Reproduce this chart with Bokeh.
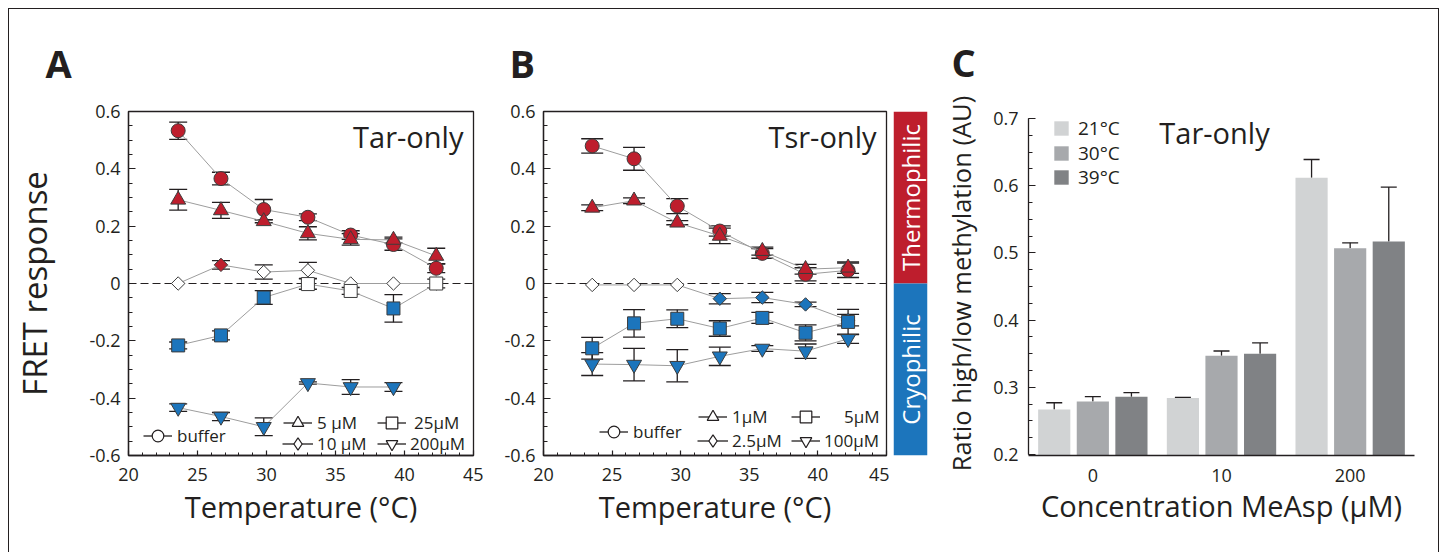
import numpy as np
from bokeh.plotting import figure
from bokeh.layouts import row
from bokeh.models import (ColumnDataSource, Range1d, FactorRange, FixedTicker, PrintfTickFormatter,
                          Whisker, TeeHead, Span, Legend, LegendItem, Label)
from bokeh.transform import dodge
from bokeh.core.properties import value
from bokeh.embed import file_html
from bokeh.resources import INLINE

# ---------------- data ----------------
# Panel A: Tar-only FRET response vs temperature (sig: 1 thermophilic, -1 cryophilic, 0 n.s.)
temps_A = [23.6, 26.7, 29.8, 33.0, 36.1, 39.2, 42.3]
A_buffer = [0.533, 0.366, 0.258, 0.231, 0.169, 0.136, 0.053]
A_buffer_err = [0.030, 0.022, 0.035, 0.012, 0.015, 0.020, 0.015]
A_buffer_sig = [1, 1, 1, 1, 1, 1, 1]
A_5 = [0.292, 0.255, 0.217, 0.175, 0.154, 0.152, 0.096]
A_5_err = [0.036, 0.028, 0.005, 0.023, 0.020, 0.010, 0.027]
A_5_sig = [1, 1, 1, 1, 1, 1, 1]
A_10 = [0.0, 0.065, 0.040, 0.046, 0.0, 0.0, 0.0]
A_10_err = [0.0, 0.015, 0.025, 0.028, 0.0, 0.0, 0.0]
A_10_sig = [0, 1, 0, 0, 0, 0, 0]
A_25 = [-0.216, -0.181, -0.049, -0.002, -0.026, -0.087, 0.0]
A_25_err = [0.012, 0.016, 0.024, 0.018, 0.012, 0.048, 0.015]
A_25_sig = [-1, -1, -1, 0, 0, -1, 0]
A_200 = [-0.433, -0.464, -0.500, -0.347, -0.361, -0.361]
A_200_err = [0.013, 0.014, 0.031, 0.004, 0.026, 0.015]
A_200_sig = [-1, -1, -1, -1, -1, -1]

# Panel B: Tsr-only
temps_B = [23.55, 26.6, 29.75, 32.85, 35.95, 39.1, 42.2]
B_buffer = [0.480, 0.435, 0.270, 0.183, 0.105, 0.032, 0.046]
B_buffer_err = [0.025, 0.040, 0.026, 0.018, 0.017, 0.023, 0.025]
B_buffer_sig = [1, 1, 1, 1, 1, 1, 1]
B_1 = [0.264, 0.289, 0.212, 0.166, 0.113, 0.050, 0.055]
B_1_err = [0.010, 0.010, 0.007, 0.027, 0.014, 0.017, 0.020]
B_1_sig = [1, 1, 1, 1, 1, 1, 1]
B_2p5 = [-0.005, -0.005, -0.005, -0.053, -0.049, -0.073, -0.128]
B_2p5_err = [0.0, 0.0, 0.0, 0.018, 0.018, 0.008, 0.020]
B_2p5_sig = [0, 0, 0, -1, -1, -1, -1]
B_5 = [-0.226, -0.139, -0.123, -0.157, -0.120, -0.172, -0.134]
B_5_err = [0.038, 0.048, 0.031, 0.027, 0.019, 0.028, 0.044]
B_5_sig = [-1, -1, -1, -1, -1, -1, -1]
B_100 = [-0.281, -0.283, -0.287, -0.254, -0.227, -0.236, -0.193]
B_100_err = [0.040, 0.057, 0.056, 0.032, 0.010, 0.025, 0.016]
B_100_sig = [-1, -1, -1, -1, -1, -1, -1]

# colour-bar classes
cb_labels = ["Thermophilic", "Cryophilic"]
cb_bottom = [0.0, -0.6]
cb_top = [0.6, 0.0]

# Panel C: methylation ratio (Tar-only)
concs = ["0", "10", "200"]
temps_C = ["21°C", "30°C", "39°C"]
ratio_21 = [0.267, 0.284, 0.612]
ratio_21_err = [0.010, 0.001, 0.027]
ratio_30 = [0.279, 0.347, 0.507]
ratio_30_err = [0.007, 0.007, 0.008]
ratio_39 = [0.286, 0.350, 0.517]
ratio_39_err = [0.006, 0.016, 0.081]

# ---------------- style ----------------
FONT = "Open Sans"
INK = "#231f20"
RED = "#be1e2d"
BLUE = "#1c75bc"
SIGCOL = {1: RED, -1: BLUE, 0: "white"}
GRAYS = ["#d1d3d4", "#a7a9ac", "#808285"]
H = 543
TOP, BOTTOM = 102, 97
NAN = float("nan")


def base_fig(width, left, right, xr, yr, **kw):
    p = figure(width=width, height=H, x_range=xr, y_range=yr, output_backend="svg",
               toolbar_location=None, min_border_left=left, min_border_right=right,
               min_border_top=TOP, min_border_bottom=BOTTOM, background_fill_color="white",
               border_fill_color="white", **kw)
    p.grid.visible = False
    return p


def style_axis(ax, tick_in=6, minor_in=3):
    ax.axis_line_color = INK
    ax.axis_line_width = 1.3
    ax.major_tick_line_color = INK
    ax.minor_tick_line_color = INK
    ax.major_tick_line_width = 1.2
    ax.minor_tick_line_width = 1.0
    ax.major_tick_in = tick_in
    ax.major_tick_out = 0
    ax.minor_tick_in = minor_in
    ax.minor_tick_out = 0
    ax.major_label_text_font = FONT
    ax.major_label_text_font_size = "18px"
    ax.major_label_text_color = INK
    ax.axis_label_text_font = FONT
    ax.axis_label_text_font_style = "normal"
    ax.axis_label_text_color = INK


def panel_letter(p, letter, offset, standoff):
    p.title.text = letter
    p.title.align = "left"
    p.title.offset = offset
    p.title.standoff = standoff
    p.title.text_font = FONT
    p.title.text_font_style = "bold"
    p.title.text_font_size = "38px"
    p.title.text_color = INK


def one_legend(p, label, rends, loc, gw, gh, standoff, fsize):
    p.add_layout(Legend(items=[LegendItem(label=label, renderers=rends)], location=loc,
                        orientation="vertical", padding=0, margin=0, spacing=0,
                        glyph_width=gw, glyph_height=gh, label_standoff=standoff,
                        label_height=16, label_text_font=FONT, label_text_font_size=fsize,
                        label_text_color=INK, background_fill_alpha=0, border_line_color=None))


def fret_panel(width, left, right, temps, series, legend_spec, title, cap):
    p = base_fig(width, left, right, Range1d(20, 45), Range1d(-0.6, 0.6))
    p.outline_line_color = INK
    p.outline_line_width = 1.3
    p.outline_line_alpha = 1
    style_axis(p.xaxis[0], 5, 3)
    style_axis(p.yaxis[0], 7, 4)
    p.xaxis.ticker = FixedTicker(ticks=[20, 25, 30, 35, 40, 45], minor_ticks=list(range(20, 46)))
    p.yaxis.ticker = FixedTicker(ticks=[-0.6, -0.4, -0.2, 0, 0.2, 0.4, 0.6],
                                 minor_ticks=np.round(np.arange(-0.6, 0.6001, 0.05), 3).tolist())
    p.xaxis.formatter = PrintfTickFormatter(format="%g")
    p.yaxis.formatter = PrintfTickFormatter(format="%g")
    p.xaxis.major_label_standoff = 12
    p.yaxis.major_label_standoff = 8
    p.xaxis.axis_label = "Temperature (°C)"
    p.xaxis.axis_label_text_font_size = "29px"
    p.xaxis.axis_label_standoff = 3

    p.add_layout(Span(location=0, dimension="width", line_color=INK, line_width=1,
                      line_dash="8 4", level="underlay"))

    renderers = {}
    for name, vals, errs, sigs, marker, size, angle, lmarker in series:
        t = temps[:len(vals)]
        p.line(t, vals, line_color="#9d9d9d", line_width=1)
        keep = [i for i in range(len(vals)) if errs[i] > 0]
        wsrc = ColumnDataSource(dict(x=[t[i] for i in keep],
                                     lo=[vals[i] - errs[i] for i in keep],
                                     hi=[vals[i] + errs[i] for i in keep]))
        p.add_layout(Whisker(base="x", lower="lo", upper="hi", source=wsrc, line_color=INK,
                             line_width=1.3,
                             upper_head=TeeHead(size=cap, line_color=INK, line_width=1.3),
                             lower_head=TeeHead(size=cap, line_color=INK, line_width=1.3)))
        src = ColumnDataSource(dict(x=t, y=vals, fill=[SIGCOL[s] for s in sigs]))
        p.scatter("x", "y", source=src, marker=marker, size=size, angle=angle,
                  fill_color="fill", line_color="#3c3c3c", line_width=1)
        # legend proxies (not drawn inside the plot: NaN positions)
        lr = p.line([NAN], [NAN], line_color=INK, line_width=1.3)
        mr = p.scatter([NAN], [NAN], marker=lmarker, fill_color="white",
                       line_color=INK, line_width=1.2)
        renderers[name] = [lr, mr]

    for name, label, loc, standoff, gw, gh in legend_spec:
        one_legend(p, label, renderers[name], loc, gw, gh, standoff, "17px")

    p.add_layout(Label(x=44.27, y=0.513, text=title, text_align="right", text_baseline="middle",
                       text_font=FONT, text_font_size="29px", text_color=INK))
    return p


seriesA = [
    ("buffer", A_buffer, A_buffer_err, A_buffer_sig, "circle", 14, 0, "circle"),
    ("c1", A_5, A_5_err, A_5_sig, "triangle", 15, 0, "triangle"),
    ("c2", A_10, A_10_err, A_10_sig, "square", 9.5, np.pi / 4, "diamond"),
    ("c3", A_25, A_25_err, A_25_sig, "square", 13, 0, "square"),
    ("c4", A_200, A_200_err, A_200_sig, "inverted_triangle", 15, 0, "inverted_triangle"),
]
legendA = [("buffer", "buffer", (15, 3), 5, 29, 33), ("c1", "5 µM", (155, 16), 5, 29, 33),
           ("c2", "10 µM", (154, -7), 4, 31, 37),
           ("c3", "25µM", (249, 16), 8, 29, 33), ("c4", "200µM", (249, -5), 4, 29, 33)]
pA = fret_panel(474, 119, 10, temps_A, seriesA, legendA, "Tar-only", 18)
pA.yaxis.axis_label = "FRET response"
pA.yaxis.axis_label_text_font_size = "33px"
pA.yaxis.axis_label_standoff = 29
panel_letter(pA, "A", -83, 46)

seriesB = [
    ("buffer", B_buffer, B_buffer_err, B_buffer_sig, "circle", 14, 0, "circle"),
    ("c1", B_1, B_1_err, B_1_sig, "triangle", 15, 0, "triangle"),
    ("c2", B_2p5, B_2p5_err, B_2p5_sig, "square", 9.5, np.pi / 4, "diamond"),
    ("c3", B_5, B_5_err, B_5_sig, "square", 13, 0, "square"),
    ("c4", B_100, B_100_err, B_100_sig, "inverted_triangle", 15, 0, "inverted_triangle"),
]
legendB = [("buffer", "buffer", (56, 7), 5, 29, 33), ("c1", "1µM", (155, 22), 5, 29, 33),
           ("c2", "2.5µM", (154, -4), 4, 31, 37),
           ("c3", "5µM", (248, 22), 24, 29, 33), ("c4", "100µM", (248, -2), 4, 29, 33)]
pB = fret_panel(406, 60, 3, temps_B, seriesB, legendB, "Tsr-only", 22)
panel_letter(pB, "B", -34, 46)

# colour bar
pCB = base_fig(42, 4, 4, Range1d(0, 1), Range1d(-0.6, 0.6), x_axis_type=None, y_axis_type=None)
pCB.outline_line_color = None
cbsrc = ColumnDataSource(dict(label=cb_labels, bottom=cb_bottom, top=cb_top,
                              mid=[(b + t) / 2 for b, t in zip(cb_bottom, cb_top)],
                              color=[RED, BLUE], xc=[0.5, 0.5]))
pCB.quad(left=0, right=1, bottom="bottom", top="top", fill_color="color", line_color=None, source=cbsrc)
pCB.text(x="xc", y="mid", text="label", source=cbsrc, angle=np.pi / 2, text_align="center",
         text_baseline="middle", text_color="white", text_font=value(FONT), text_font_size="24px")

# panel C (frame shares top/bottom with A/B; the y-axis line is bounded to 0.2-0.7)
C_PX = 672.0  # pixels per ratio unit in the reference
pC = base_fig(507, 97, 24, FactorRange(factors=concs),
              Range1d(0.2 - 1 / C_PX, 0.7 + 7 / C_PX))
pC.outline_line_color = None
style_axis(pC.xaxis[0], 0, 0)
style_axis(pC.yaxis[0], 7, 4)
pC.xaxis.minor_tick_line_color = None
pC.yaxis.bounds = (0.2, 0.7)
pC.yaxis.ticker = FixedTicker(ticks=[0.2, 0.3, 0.4, 0.5, 0.6, 0.7],
                              minor_ticks=np.round(np.arange(0.2, 0.7001, 0.025), 3).tolist())
pC.yaxis.formatter = PrintfTickFormatter(format="%g")
pC.yaxis.major_label_standoff = 10
pC.xaxis.major_label_standoff = 13
pC.xaxis.axis_label = "Concentration MeAsp (µM)"
pC.xaxis.axis_label_text_font_size = "29px"
pC.xaxis.axis_label_standoff = 1
pC.yaxis.axis_label = "Ratio high/low methylation (AU)"
pC.yaxis.axis_label_text_font_size = "25.5px"
pC.yaxis.axis_label_standoff = 12
panel_letter(pC, "C", -77, 48)

csrc = ColumnDataSource(dict(conc=concs, r21=ratio_21, r30=ratio_30, r39=ratio_39,
                             e21=[v + e for v, e in zip(ratio_21, ratio_21_err)],
                             e30=[v + e for v, e in zip(ratio_30, ratio_30_err)],
                             e39=[v + e for v, e in zip(ratio_39, ratio_39_err)]))
c_locs = [(24, 314), (24, 289), (24, 265)]
for (col, ecol, off, color, lab), loc in zip([("r21", "e21", -0.3, GRAYS[0], temps_C[0]),
                                              ("r30", "e30", 0.0, GRAYS[1], temps_C[1]),
                                              ("r39", "e39", 0.3, GRAYS[2], temps_C[2])], c_locs):
    xd = dodge("conc", off, range=pC.x_range)
    pC.add_layout(Whisker(base=xd, lower=col, upper=ecol, source=csrc, line_color=INK, line_width=1.3,
                          upper_head=TeeHead(size=16, line_color=INK, line_width=1.3), lower_head=None))
    r = pC.vbar(x=xd, top=col, width=0.25, source=csrc, fill_color=color, line_color=None)
    one_legend(pC, lab, [r], loc, 18, 18, 8, "19px")

pC.add_layout(Label(x=1.5, x_offset=-7, y=0.679, text="Tar-only", text_align="center",
                    text_baseline="middle", text_font=FONT, text_font_size="29px", text_color=INK))

layout = row(pA, pB, pCB, pC, margin=(8, 0, 0, 8),
             styles={"border-top": "1px solid #231f20",
                     "border-left": "1px solid #231f20",
                     "border-right": "1px solid #231f20"})

open("out.html", "w").write(file_html(layout, INLINE))
